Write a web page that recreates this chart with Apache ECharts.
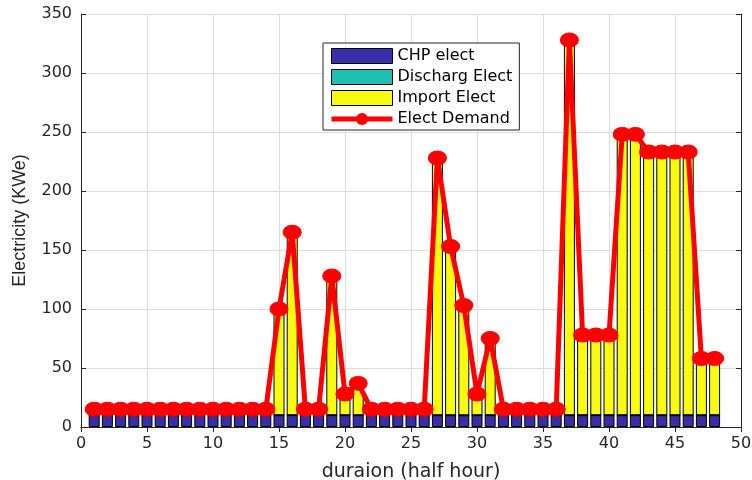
<!DOCTYPE html>
<html lang="en">
<head>
    <meta charset="UTF-8">
    <title>Electricity</title>
    <script src="https://cdn.jsdelivr.net/npm/echarts@6/dist/echarts.min.js"></script>
    <style>
        body { margin: 0; background: #fff; }
    </style>
</head>
<body>
<div id="main" style="width: 752px;height:480px;"></div>
<script type="text/javascript">
    // x axis ticks 0..50, bars on half-hour slots 1..48
    var ticks = [];
    for (var t = 0; t <= 50; t++) ticks.push(String(t));

    var slots = [];
    for (var i = 1; i <= 48; i++) slots.push(i);

    var demand = [15, 15, 15, 15, 15, 15, 15, 15, 15, 15, 15, 15, 15, 15,
        100, 165, 15, 15, 128, 28, 37, 15, 15, 15, 15, 15,
        228, 153, 103, 28, 75, 15, 15, 15, 15, 15,
        328, 78, 78, 78, 248, 248, 233, 233, 233, 233, 58, 58];
    var chp = [10, 10, 10, 10, 10, 10, 10, 10, 10, 10, 10, 10, 10, 10, 10, 10,
        10, 10, 10, 10, 10, 10, 10, 10, 10, 10, 10, 10, 10, 10, 10, 10,
        10, 10, 10, 10, 10, 10, 10, 10, 10, 10, 10, 10, 10, 10, 10, 10];
    var discharge = [0, 0, 0, 0, 0, 0, 0, 0, 0, 0, 0, 0, 0, 0, 0, 0,
        0, 0, 0, 0, 0, 0, 0, 0, 0, 0, 0, 0, 0, 0, 0, 0,
        0, 0, 0, 0, 0, 0, 0, 0, 0, 0, 0, 0, 0, 0, 0, 0];
    var importE = [5, 5, 5, 5, 5, 5, 5, 5, 5, 5, 5, 5, 5, 5,
        90, 155, 5, 5, 118, 18, 27, 5, 5, 5, 5, 5,
        218, 143, 93, 18, 65, 5, 5, 5, 5, 5,
        318, 68, 68, 68, 238, 238, 223, 223, 223, 223, 48, 48];

    function pairs(vals) {
        return slots.map(function (x, k) { return [String(x), vals[k]]; });
    }

    var myChart = echarts.init(document.getElementById('main'));
    var wideFont = 'DejaVu Sans';
    var font = 'Liberation Sans';
    var axisColor = '#262626';

    var barStyle = function (c) {
        return { color: c, borderColor: '#000', borderWidth: 1 };
    };

    var option = {
        animation: false,
        textStyle: { fontFamily: wideFont },
        grid: { left: 81, right: 11, top: 14, bottom: 53, outerBoundsMode: 'none' },
        legend: {
            orient: 'vertical',
            left: 323,
            top: 43,
            padding: [5, 7, 3, 6],
            itemGap: 5,
            itemWidth: 61,
            itemHeight: 15,
            itemTextGap: 4,
            borderColor: '#262626',
            borderWidth: 1,
            backgroundColor: '#fff',
            textStyle: { fontFamily: wideFont, fontSize: 16, color: '#000' },
            data: [
                { name: 'CHP elect', icon: 'rect', itemStyle: { borderWidth: 1 } },
                { name: 'Discharg Elect', icon: 'rect', itemStyle: { borderWidth: 1 } },
                { name: 'Import Elect', icon: 'rect', itemStyle: { borderWidth: 1 } },
                { name: 'Elect Demand', lineStyle: { width: 5 } }
            ]
        },
        xAxis: [{
            type: 'category',
            data: ticks,
            boundaryGap: false,
            name: 'duraion (half hour)',
            nameLocation: 'middle',
            nameGap: 36,
            nameTextStyle: { fontFamily: wideFont, fontSize: 19, color: '#262626' },
            axisLine: { onZero: false, lineStyle: { color: axisColor } },
            axisTick: { inside: true, length: 5, interval: 4, lineStyle: { color: axisColor } },
            axisLabel: { fontFamily: wideFont, fontSize: 16, color: '#262626', interval: 4, margin: 9 },
            splitLine: { show: true, interval: 4, lineStyle: { color: '#dcdcdc' } }
        }, {
            type: 'category',
            data: ticks,
            boundaryGap: false,
            position: 'top',
            axisLine: { show: true, lineStyle: { color: axisColor } },
            axisTick: { show: true, inside: true, length: 5, interval: 4, lineStyle: { color: axisColor } },
            axisLabel: { show: false },
            splitLine: { show: false }
        }],
        yAxis: [{
            type: 'value',
            min: 0, max: 350, interval: 50,
            name: 'Electricity (KWe)',
            nameLocation: 'middle',
            nameGap: 52,
            nameTextStyle: { fontFamily: font, fontSize: 18, color: '#262626' },
            axisLine: { show: true, lineStyle: { color: axisColor } },
            axisTick: { show: true, inside: true, length: 5, lineStyle: { color: axisColor } },
            axisLabel: { fontFamily: wideFont, fontSize: 16, color: '#262626', margin: 9 },
            splitLine: { show: true, lineStyle: { color: '#dcdcdc' } }
        }, {
            type: 'value',
            position: 'right',
            min: 0, max: 350, interval: 50,
            axisLine: { show: true, lineStyle: { color: axisColor } },
            axisTick: { show: true, inside: true, length: 5, lineStyle: { color: axisColor } },
            axisLabel: { show: false },
            splitLine: { show: false }
        }],
        series: [{
            name: 'CHP elect',
            type: 'bar',
            stack: 'e',
            barWidth: 11,
            itemStyle: barStyle('#3a2ea8'),
            data: pairs(chp)
        }, {
            name: 'Discharg Elect',
            type: 'bar',
            stack: 'e',
            barWidth: 11,
            itemStyle: barStyle('#1fbfb4'),
            data: pairs(discharge)
        }, {
            name: 'Import Elect',
            type: 'bar',
            stack: 'e',
            barWidth: 11,
            itemStyle: barStyle('#f8fa10'),
            data: pairs(importE)
        }, {
            name: 'Elect Demand',
            type: 'line',
            z: 5,
            showAllSymbol: true,
            symbol: 'circle',
            symbolSize: [18, 14],
            lineStyle: { color: '#ff0000', width: 5 },
            itemStyle: { color: '#ff0000', borderColor: '#ff0000' },
            data: pairs(demand)
        }]
    };

    myChart.setOption(option);
</script>
</body>
</html>
